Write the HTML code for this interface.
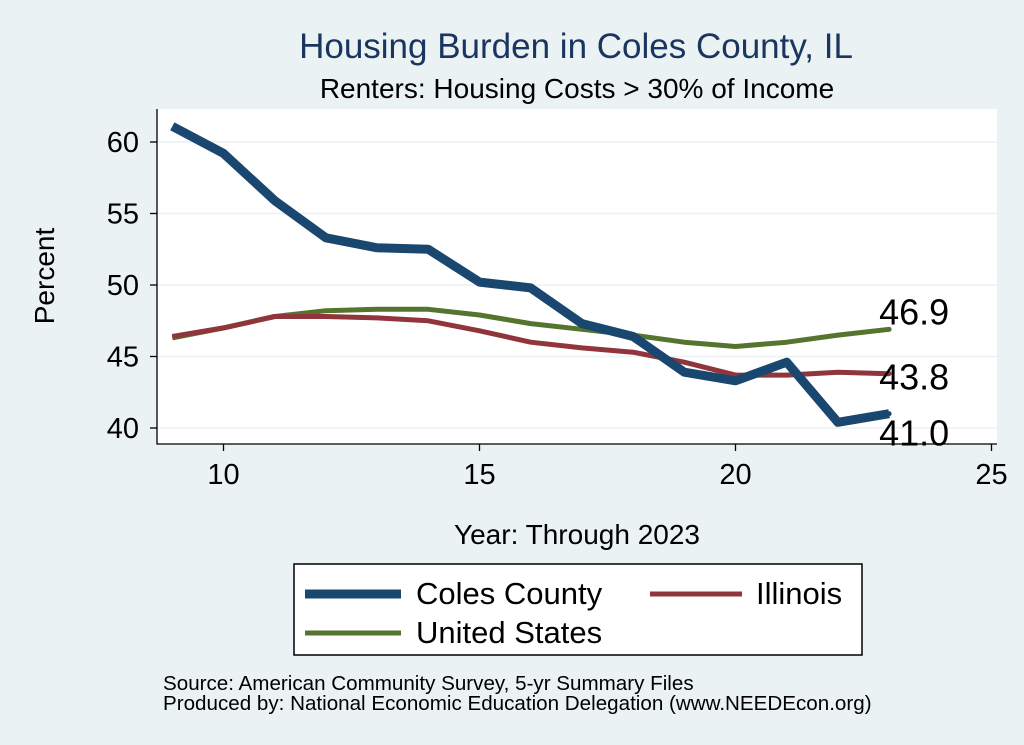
<!DOCTYPE html>
<html><head><meta charset="utf-8"><style>
body{margin:0;background:#eaf2f3;}
svg{display:block;font-family:"Liberation Sans",Arial,sans-serif;}
</style></head><body>
<svg id="c" width="1024" height="745">
<rect x="0" y="0" width="1024" height="745" fill="#eaf2f3"/>
<rect x="157" y="109" width="840" height="335" fill="#ffffff"/>
<text x="576" y="58" font-size="35" fill="#1a3560" text-anchor="middle">Housing Burden in Coles County, IL</text>
<text x="577" y="98" font-size="28" fill="#000" text-anchor="middle">Renters: Housing Costs &gt; 30% of Income</text>
<text transform="translate(54,276) rotate(-90)" font-size="28" text-anchor="middle">Percent</text>
<text x="577" y="544" font-size="28" text-anchor="middle">Year: Through 2023</text>
<g id="grid"></g><g id="series"></g><g id="axes"></g>
<rect x="294" y="564" width="568" height="91" fill="#fff" stroke="#000" stroke-width="1.5"/>
<g><line x1="305" y1="594" x2="401" y2="594" stroke="#1a476f" stroke-width="9"/><text x="416" y="604" font-size="31">Coles County</text></g>
<g><line x1="650" y1="594" x2="742" y2="594" stroke="#90353b" stroke-width="5"/><text x="756" y="604" font-size="31">Illinois</text></g>
<g><line x1="305" y1="633" x2="401" y2="633" stroke="#55752f" stroke-width="5"/><text x="416" y="643" font-size="31">United States</text></g>
<text x="163" y="690" font-size="20.6">Source: American Community Survey, 5-yr Summary Files</text>
<text x="163" y="710" font-size="20.6">Produced by: National Economic Education Delegation (www.NEEDEcon.org)</text>
</svg>
<script>
const years=[9,10,11,12,13,14,15,16,17,18,19,20,21,22,23];
const coles=[61.1,59.2,55.9,53.3,52.6,52.5,50.2,49.8,47.3,46.4,43.9,43.3,44.6,40.4,41.0];
const illinois=[46.4,47.0,47.8,47.8,47.7,47.5,46.8,46.0,45.6,45.3,44.6,43.7,43.7,43.9,43.8];
const us=[46.3,47.0,47.8,48.2,48.3,48.3,47.9,47.3,46.9,46.5,46.0,45.7,46.0,46.5,46.9];
const yTicks=[40,45,50,55,60];
const xTicks=[10,15,20,25];
const NS="http://www.w3.org/2000/svg";
const X=v=>223.5+(v-10)*51.2;
const Y=v=>428-(v-40)*14.3;
function mk(tag,attrs,parent,txt){const e=document.createElementNS(NS,tag);for(const k in attrs)e.setAttribute(k,attrs[k]);if(txt!=null)e.textContent=txt;parent.appendChild(e);return e;}
const grid=document.getElementById('grid'),axes=document.getElementById('axes'),ser=document.getElementById('series');
yTicks.forEach(t=>{
 const g=mk('line',{x1:157,x2:997,y1:Y(t),y2:Y(t),stroke:'#eaf2f3','stroke-width':1.5},grid);
 
 
 const tk=mk('line',{x1:150,x2:157,y1:Y(t),y2:Y(t),stroke:'#000','stroke-width':1.3},axes);
 
 
 const l=mk('text',{x:139,y:Y(t)+10,'font-size':29,'text-anchor':'end'},axes,t);
 
 
});
xTicks.forEach(t=>{
 const tk=mk('line',{x1:X(t),x2:X(t),y1:444,y2:451,stroke:'#000','stroke-width':1.3},axes);
 
 
 const l=mk('text',{x:X(t),y:484,'font-size':29,'text-anchor':'middle'},axes,t);
 
 
});
const ax=mk('path',{d:'M157,109 V444 H997',fill:'none',stroke:'#000','stroke-width':1.3},axes);


function line(vals,color,w,name){
 const d=vals.map((v,i)=>(i?'L':'M')+X(years[i]).toFixed(1)+','+Y(v).toFixed(1)).join(' ');
 const p=mk('path',{d:d,fill:'none',stroke:color,'stroke-width':w,'stroke-linejoin':'round'},ser);
 
 
}
line(us,'#55752f',5,'line-united-states');
line(illinois,'#90353b',5,'line-illinois');
line(coles,'#1a476f',9,'line-coles-county');
const n=years.length-1,lx=X(years[n])-10;
const lab=[[us[n],'#55752f',-5,'label-us-last'],[illinois[n],'#90353b',16,'label-illinois-last'],[coles[n],'#1a476f',32,'label-coles-last']];
lab.forEach(([v,c,dy,name])=>{
 const dt=mk('circle',{cx:X(years[n]),cy:Y(v),r:2.5,fill:c},ser);
 
 
 const t=mk('text',{x:lx,y:Y(v)+dy,'font-size':36},ser,v.toFixed(1));
 
 
});
</script>
</body></html>
